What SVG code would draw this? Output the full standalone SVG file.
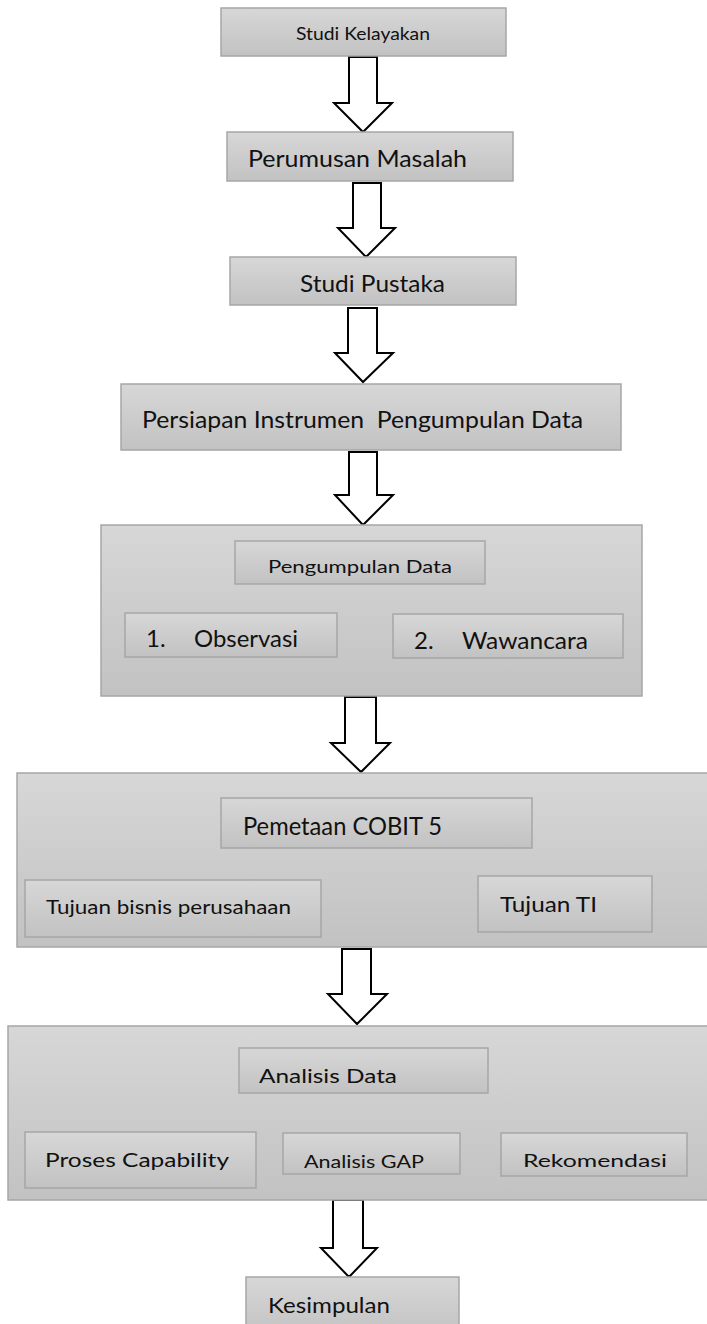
<svg xmlns="http://www.w3.org/2000/svg" width="707" height="1324" viewBox="0 0 707 1324">
<defs>
<linearGradient id="g" x1="0" y1="0" x2="0" y2="1">
<stop offset="0" stop-color="#d7d7d7"/>
<stop offset="1" stop-color="#c2c2c2"/>
</linearGradient>
<clipPath id="c1"><rect x="0" y="0" width="707" height="576"/></clipPath>
<clipPath id="c2"><rect x="0" y="0" width="707" height="651"/></clipPath>
<clipPath id="c3"><rect x="0" y="0" width="707" height="1170"/></clipPath>
<clipPath id="c4"><rect x="0" y="0" width="707" height="1168"/></clipPath>
</defs>
<style>
.b{fill:url(#g);stroke:#a6a6a6;stroke-width:1.5}
.t{font-family:Lato,"Open Sans","Liberation Sans",sans-serif;fill:#111;white-space:pre}
.a{fill:#fff;stroke:#000;stroke-width:2;stroke-linejoin:miter}
</style>
<g id="connectors">
<path class="a" d="M349,57 H377 V103 H392 L363,132 L334,103 H349 Z"/>
<path class="a" d="M353,183 H381 V228 H395 L366,257 L338,228 H353 Z"/>
<path class="a" d="M348,308 H377 V353 H393 L363,382 L335,353 H348 Z"/>
<path class="a" d="M349,452 H377 V495 H393 L363,525 L335,495 H349 Z"/>
<path class="a" d="M345,697 H376 V743 H390 L361,772 L331,743 H345 Z"/>
<path class="a" d="M342,949 H371 V994 H387 L357,1024 L328,994 H342 Z"/>
<path class="a" d="M333,1200 H363 V1248 H377 L349,1277 L321,1248 H333 Z"/>
</g>
<g id="studi-kelayakan">
<rect class="b" x="221" y="8" width="285" height="48"/>
<text class="t" x="296" y="40" font-size="18" textLength="134" lengthAdjust="spacingAndGlyphs">Studi Kelayakan</text>
</g>
<g id="perumusan-masalah">
<rect class="b" x="227" y="132" width="286" height="49"/>
<text class="t" x="248" y="167" font-size="23" textLength="219" lengthAdjust="spacingAndGlyphs">Perumusan Masalah</text>
</g>
<g id="studi-pustaka">
<rect class="b" x="230" y="257" width="286" height="48"/>
<text class="t" x="300" y="292" font-size="23" textLength="145" lengthAdjust="spacingAndGlyphs">Studi Pustaka</text>
</g>
<g id="persiapan">
<rect class="b" x="121" y="384" width="500" height="66"/>
<text class="t" x="142" y="428" font-size="23" textLength="441" lengthAdjust="spacingAndGlyphs">Persiapan Instrumen  Pengumpulan Data</text>
</g>
<g id="pengumpulan-data">
<rect class="b" x="101" y="525" width="541" height="171"/>
<rect class="b" x="235" y="541" width="250" height="43"/>
<text class="t" x="268" y="573" font-size="17.6" textLength="184" lengthAdjust="spacingAndGlyphs" clip-path="url(#c1)">Pengumpulan Data</text>
<rect class="b" x="125" y="613" width="212" height="44"/>
<text class="t" x="146" y="647" font-size="24">1.</text>
<text class="t" x="194" y="647" font-size="24" textLength="104" lengthAdjust="spacingAndGlyphs">Observasi</text>
<rect class="b" x="393" y="614" width="230" height="44"/>
<text class="t" x="414" y="649" font-size="24" clip-path="url(#c2)">2.</text>
<text class="t" x="462" y="649" font-size="24" textLength="126" lengthAdjust="spacingAndGlyphs" clip-path="url(#c2)">Wawancara</text>
</g>
<g id="pemetaan-cobit">
<rect class="b" x="17" y="773" width="700" height="174"/>
<rect class="b" x="221" y="798" width="311" height="50"/>
<text class="t" x="243" y="835" font-size="24.5" textLength="199" lengthAdjust="spacingAndGlyphs">Pemetaan COBIT 5</text>
<rect class="b" x="25" y="880" width="296" height="57"/>
<text class="t" x="46" y="914" font-size="19.5" textLength="245" lengthAdjust="spacingAndGlyphs">Tujuan bisnis perusahaan</text>
<rect class="b" x="478" y="876" width="174" height="56"/>
<text class="t" x="500" y="912" font-size="21" textLength="97" lengthAdjust="spacingAndGlyphs">Tujuan TI</text>
</g>
<g id="analisis-data">
<rect class="b" x="8" y="1026" width="709" height="174"/>
<rect class="b" x="239" y="1048" width="249" height="45"/>
<text class="t" x="259" y="1083" font-size="18.5" textLength="138" lengthAdjust="spacingAndGlyphs">Analisis Data</text>
<rect class="b" x="25" y="1132" width="231" height="56"/>
<text class="t" x="45" y="1167" font-size="19.5" textLength="184" lengthAdjust="spacingAndGlyphs">Proses Capability</text>
<rect class="b" x="283" y="1133" width="177" height="41"/>
<text class="t" x="304" y="1168" font-size="17.6" textLength="120" lengthAdjust="spacingAndGlyphs" clip-path="url(#c3)">Analisis GAP</text>
<rect class="b" x="501" y="1133" width="186" height="43"/>
<text class="t" x="523" y="1167" font-size="18" textLength="144" lengthAdjust="spacingAndGlyphs" clip-path="url(#c4)">Rekomendasi</text>
</g>
<g id="kesimpulan">
<rect class="b" x="246" y="1277" width="213" height="60"/>
<text class="t" x="268" y="1313" font-size="22" textLength="122" lengthAdjust="spacingAndGlyphs">Kesimpulan</text>
</g>
</svg>
